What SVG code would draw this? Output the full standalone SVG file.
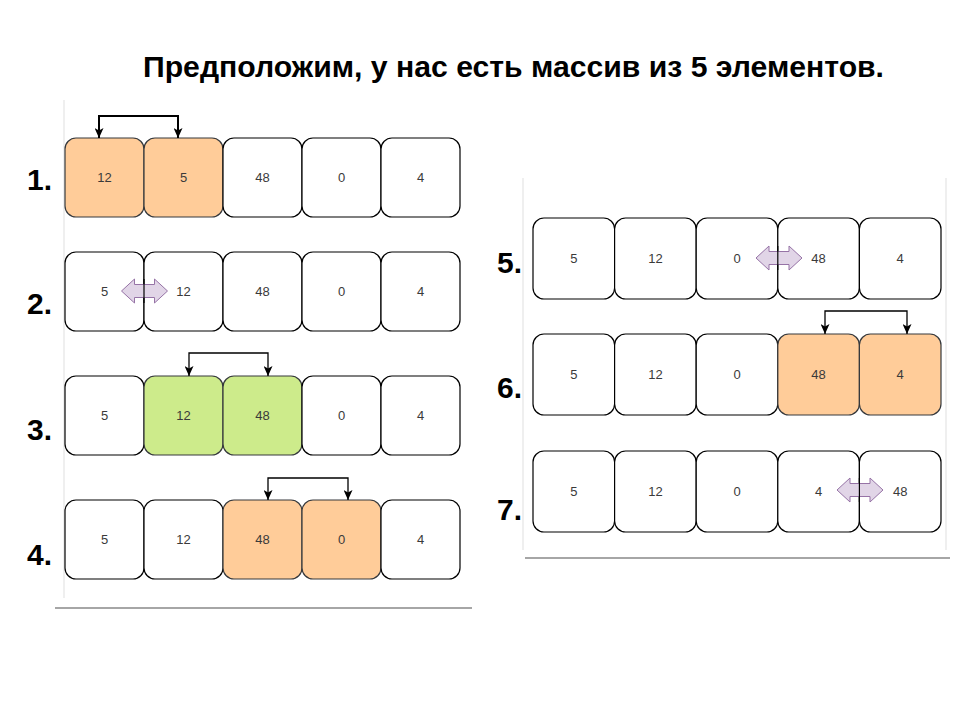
<svg xmlns="http://www.w3.org/2000/svg" width="960" height="720" viewBox="0 0 960 720">
<style>
.title{font-family:"Liberation Sans",Arial,sans-serif;font-weight:bold;font-size:30px;fill:#000}
.lbl{font-family:"Liberation Sans",Arial,sans-serif;font-weight:bold;font-size:30px;fill:#000}
.cell{fill:#fff;stroke:#000;stroke-width:1.2}
.orange{fill:#ffcc99;stroke:#36393d;stroke-width:1.2}
.green{fill:#cdeb8b;stroke:#36393d;stroke-width:1.2}
.num{font-family:"Liberation Sans",Arial,sans-serif;font-size:13px;fill:#3a3a3a;text-anchor:middle}
.conn{fill:none;stroke:#000;stroke-width:1.3}
.conn2{fill:none;stroke:#000;stroke-width:2}
.dbl{fill:#e1d5e7;stroke:#9673a6;stroke-width:1}
.frame{stroke:#e4e4e4;stroke-width:1.2}
.base{stroke:#a6a6a6;stroke-width:2}
</style>
<defs>
<marker id="ah" markerUnits="userSpaceOnUse" markerWidth="10" markerHeight="9" refX="10" refY="4.5" orient="auto-start-reverse" viewBox="0 0 10 9">
<path d="M0,0 L10,4.5 L0,9 L2.5,4.5 z" fill="#000"/>
</marker>
<polygon id="darr" points="-23,0 -10,-12 -10,-6.5 10,-6.5 10,-12 23,0 10,12 10,6.5 -10,6.5 -10,12" class="dbl"/>
</defs>
<rect width="960" height="720" fill="#fff"/>

<text class="title" x="143" y="77" textLength="741" lengthAdjust="spacingAndGlyphs">Предположим, у нас есть массив из 5 элементов.</text>

<g id="frames">
<line class="frame" x1="64" y1="100" x2="64" y2="598"/>
<line class="base" x1="55" y1="608" x2="472" y2="608"/>
<line class="frame" x1="523" y1="178" x2="523" y2="550"/>
<line class="frame" x1="946" y1="178" x2="946" y2="550"/>
<line class="base" x1="525" y1="558" x2="950" y2="558"/>
</g>

<g id="labels">
<text class="lbl" x="27" y="190">1.</text>
<text class="lbl" x="27" y="314">2.</text>
<text class="lbl" x="27" y="440">3.</text>
<text class="lbl" x="27" y="565">4.</text>
<text class="lbl" x="497" y="273">5.</text>
<text class="lbl" x="497" y="398">6.</text>
<text class="lbl" x="497" y="520">7.</text>
</g>

<g id="row1">
<rect class="orange" x="65" y="138" width="79" height="79" rx="11"/>
<rect class="orange" x="144" y="138" width="79" height="79" rx="11"/>
<rect class="cell" x="223" y="138" width="79" height="79" rx="11"/>
<rect class="cell" x="302" y="138" width="79" height="79" rx="11"/>
<rect class="cell" x="381" y="138" width="79" height="79" rx="11"/>
<text class="num" x="104.5" y="182">12</text>
<text class="num" x="183.5" y="182">5</text>
<text class="num" x="262.5" y="182">48</text>
<text class="num" x="341.5" y="182">0</text>
<text class="num" x="420.5" y="182">4</text>
</g>

<g id="row2">
<rect class="cell" x="65" y="252" width="79" height="79" rx="11"/>
<rect class="cell" x="144" y="252" width="79" height="79" rx="11"/>
<rect class="cell" x="223" y="252" width="79" height="79" rx="11"/>
<rect class="cell" x="302" y="252" width="79" height="79" rx="11"/>
<rect class="cell" x="381" y="252" width="79" height="79" rx="11"/>
<text class="num" x="104.5" y="296">5</text>
<text class="num" x="183.5" y="296">12</text>
<text class="num" x="262.5" y="296">48</text>
<text class="num" x="341.5" y="296">0</text>
<text class="num" x="420.5" y="296">4</text>
</g>

<g id="row3">
<rect class="cell" x="65" y="376" width="79" height="79" rx="11"/>
<rect class="green" x="144" y="376" width="79" height="79" rx="11"/>
<rect class="green" x="223" y="376" width="79" height="79" rx="11"/>
<rect class="cell" x="302" y="376" width="79" height="79" rx="11"/>
<rect class="cell" x="381" y="376" width="79" height="79" rx="11"/>
<text class="num" x="104.5" y="420">5</text>
<text class="num" x="183.5" y="420">12</text>
<text class="num" x="262.5" y="420">48</text>
<text class="num" x="341.5" y="420">0</text>
<text class="num" x="420.5" y="420">4</text>
</g>

<g id="row4">
<rect class="cell" x="65" y="500" width="79" height="79" rx="11"/>
<rect class="cell" x="144" y="500" width="79" height="79" rx="11"/>
<rect class="orange" x="223" y="500" width="79" height="79" rx="11"/>
<rect class="orange" x="302" y="500" width="79" height="79" rx="11"/>
<rect class="cell" x="381" y="500" width="79" height="79" rx="11"/>
<text class="num" x="104.5" y="544">5</text>
<text class="num" x="183.5" y="544">12</text>
<text class="num" x="262.5" y="544">48</text>
<text class="num" x="341.5" y="544">0</text>
<text class="num" x="420.5" y="544">4</text>
</g>

<g id="row5">
<rect class="cell" x="533" y="218" width="81.6" height="81" rx="11"/>
<rect class="cell" x="614.6" y="218" width="81.6" height="81" rx="11"/>
<rect class="cell" x="696.2" y="218" width="81.6" height="81" rx="11"/>
<rect class="cell" x="777.8" y="218" width="81.6" height="81" rx="11"/>
<rect class="cell" x="859.4" y="218" width="81.6" height="81" rx="11"/>
<text class="num" x="573.8" y="263">5</text>
<text class="num" x="655.4" y="263">12</text>
<text class="num" x="737" y="263">0</text>
<text class="num" x="818.6" y="263">48</text>
<text class="num" x="900.2" y="263">4</text>
</g>

<g id="row6">
<rect class="cell" x="533" y="334" width="81.6" height="81" rx="11"/>
<rect class="cell" x="614.6" y="334" width="81.6" height="81" rx="11"/>
<rect class="cell" x="696.2" y="334" width="81.6" height="81" rx="11"/>
<rect class="orange" x="777.8" y="334" width="81.6" height="81" rx="11"/>
<rect class="orange" x="859.4" y="334" width="81.6" height="81" rx="11"/>
<text class="num" x="573.8" y="379">5</text>
<text class="num" x="655.4" y="379">12</text>
<text class="num" x="737" y="379">0</text>
<text class="num" x="818.6" y="379">48</text>
<text class="num" x="900.2" y="379">4</text>
</g>

<g id="row7">
<rect class="cell" x="533" y="451" width="81.6" height="81" rx="11"/>
<rect class="cell" x="614.6" y="451" width="81.6" height="81" rx="11"/>
<rect class="cell" x="696.2" y="451" width="81.6" height="81" rx="11"/>
<rect class="cell" x="777.8" y="451" width="81.6" height="81" rx="11"/>
<rect class="cell" x="859.4" y="451" width="81.6" height="81" rx="11"/>
<text class="num" x="573.8" y="496">5</text>
<text class="num" x="655.4" y="496">12</text>
<text class="num" x="737" y="496">0</text>
<text class="num" x="818.6" y="496">4</text>
<text class="num" x="900.2" y="496">48</text>
</g>

<g id="connectors">
<path class="conn2" d="M99,138 V116 H178 V138" marker-start="url(#ah)" marker-end="url(#ah)"/>
<path class="conn" d="M189,376 V353 H268 V376" marker-start="url(#ah)" marker-end="url(#ah)"/>
<path class="conn" d="M268,500 V478 H348 V500" marker-start="url(#ah)" marker-end="url(#ah)"/>
<path class="conn" d="M825,334 V311 H907 V334" marker-start="url(#ah)" marker-end="url(#ah)"/>
</g>

<g id="swaps">
<use href="#darr" x="144.5" y="291"/>
<line x1="144" y1="279" x2="144" y2="303" stroke="#000" stroke-width="1.2"/>
<use href="#darr" x="779" y="258"/>
<line x1="777.8" y1="246" x2="777.8" y2="270" stroke="#000" stroke-width="1.2"/>
<use href="#darr" x="860" y="490"/>
<line x1="859.4" y1="478" x2="859.4" y2="502" stroke="#000" stroke-width="1.2"/>
</g>
</svg>
